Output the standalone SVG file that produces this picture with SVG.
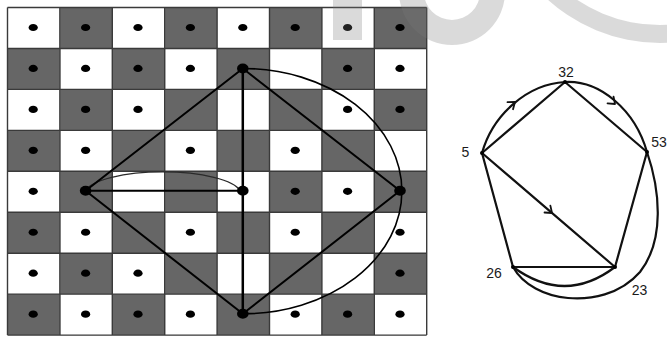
<svg xmlns="http://www.w3.org/2000/svg" xmlns:xlink="http://www.w3.org/1999/xlink" width="667" height="337" viewBox="0 0 667 337">
<style>
.grid{fill:none;stroke:#3a3a3a;stroke-width:1.4}
.dot{fill:#000}
.node{fill:#000}
.edge{fill:none;stroke:#000;stroke-width:2;stroke-linecap:round;stroke-linejoin:round}
.thin{fill:none;stroke:#2a2a2a;stroke-width:1.3}
.arc{fill:none;stroke:#000;stroke-width:1.6}
.gedge{fill:none;stroke:#111;stroke-width:2.2;stroke-linecap:round;stroke-linejoin:round}
.chev{fill:none;stroke:#111;stroke-width:1.8;stroke-linecap:round;stroke-linejoin:round}
.lbl{font-family:"Liberation Sans",Arial,sans-serif;font-size:14px;fill:#1a1a1a;text-anchor:middle}
.wm{fill:#7a7a7a;opacity:0.28}
</style>
<defs>
<pattern id="checker" patternUnits="userSpaceOnUse" x="7.5" y="7.5" width="104.8" height="81.9">
<rect x="0" y="0" width="104.8" height="81.9" fill="#fff"/>
<rect x="52.4" y="0" width="52.4" height="40.95" fill="#666"/>
<rect x="0" y="40.95" width="52.4" height="40.95" fill="#666"/>
</pattern>
<ellipse id="d" class="dot" cx="0" cy="0" rx="4.6" ry="3.6"/>
<path id="chev" class="chev" d="M-6,-4.5 L0,0 L-6,4.5"/>
</defs>
<rect width="667" height="337" fill="#fff"/>
<g id="board">
<rect x="7.5" y="7.5" width="419.2" height="327.6" fill="url(#checker)"/>
<path class="grid" d="M7.5,7.5V335.1M59.9,7.5V335.1M112.3,7.5V335.1M164.7,7.5V335.1M217.1,7.5V335.1M269.5,7.5V335.1M321.9,7.5V335.1M374.3,7.5V335.1M426.7,7.5V335.1M7.5,7.5H426.7M7.5,48.45H426.7M7.5,89.4H426.7M7.5,130.35H426.7M7.5,171.3H426.7M7.5,212.25H426.7M7.5,253.2H426.7M7.5,294.15H426.7M7.5,335.1H426.7"/>
<g id="dots">
<use href="#d" x="33.2" y="27.5"/><use href="#d" x="85.6" y="27.5"/><use href="#d" x="138" y="27.5"/><use href="#d" x="190.4" y="27.5"/><use href="#d" x="242.8" y="27.5"/><use href="#d" x="295.2" y="27.5"/><use href="#d" x="347.6" y="27.5"/><use href="#d" x="400" y="27.5"/>
<use href="#d" x="33.2" y="68.45"/><use href="#d" x="85.6" y="68.45"/><use href="#d" x="138" y="68.45"/><use href="#d" x="190.4" y="68.45"/><use href="#d" x="347.6" y="68.45"/><use href="#d" x="400" y="68.45"/>
<use href="#d" x="33.2" y="109.4"/><use href="#d" x="85.6" y="109.4"/><use href="#d" x="138" y="109.4"/><use href="#d" x="347.6" y="109.4"/><use href="#d" x="400" y="109.4"/>
<use href="#d" x="33.2" y="150.35"/><use href="#d" x="85.6" y="150.35"/><use href="#d" x="190.4" y="150.35"/><use href="#d" x="295.2" y="150.35"/>
<use href="#d" x="33.2" y="191.3"/><use href="#d" x="295.2" y="191.3"/><use href="#d" x="347.6" y="191.3"/>
<use href="#d" x="33.2" y="232.25"/><use href="#d" x="85.6" y="232.25"/><use href="#d" x="190.4" y="232.25"/><use href="#d" x="295.2" y="232.25"/><use href="#d" x="400" y="232.25"/>
<use href="#d" x="33.2" y="273.2"/><use href="#d" x="85.6" y="273.2"/><use href="#d" x="138" y="273.2"/><use href="#d" x="400" y="273.2"/>
<use href="#d" x="33.2" y="314.15"/><use href="#d" x="85.6" y="314.15"/><use href="#d" x="138" y="314.15"/><use href="#d" x="190.4" y="314.15"/><use href="#d" x="295.2" y="314.15"/><use href="#d" x="347.6" y="314.15"/><use href="#d" x="400" y="314.15"/>
</g>
</g>
<g id="watermark">
<rect class="wm" x="333" y="0" width="29" height="40"/>
<path class="wm" fill-rule="evenodd" d="M399,-8a53,53 0 1,0 106,0a53,53 0 1,0 -106,0ZM424,-8a28,28 0 1,0 56,0a28,28 0 1,0 -56,0Z"/>
<path class="wm" fill-rule="evenodd" d="M493,-124a167,167 0 1,0 334,0a167,167 0 1,0 -334,0ZM511,-124a149,149 0 1,0 298,0a149,149 0 1,0 -298,0Z"/>
</g>
<g id="connectors">
<path class="thin" d="M85.6,190.8A78,22 0 0,1 240,190.8"/>
<path class="arc" d="M242.8,68.5A159,122.6 0 0,1 242.8,313.8"/>
<path class="edge" d="M242.8,68.5L85.6,190.8L242.8,313.8L400,190.8Z"/>
<path class="edge" style="stroke-width:2.5" d="M242.8,68.5V313.8"/>
<path class="edge" d="M85.6,190.8H242.8"/>
<path class="gedge" d="M482,153L565,82L647,152L615,267L513,267Z"/>
<path class="gedge" d="M482,153L615,267"/>
<path class="gedge" d="M482,153C493,114 528,84 565,82C600,80 635,110 647,152C660,190 665,240 640,272C620,295 590,300 568,298C545,296 523,285 513,267"/>
<path class="gedge" d="M513,267Q565,305 615,267"/>
<use href="#chev" transform="translate(515,102) rotate(-38)"/>
<use href="#chev" transform="translate(615,104) rotate(42)"/>
<use href="#chev" transform="translate(552,213) rotate(40.6)"/>
</g>
<g id="n-board-top"><ellipse class="node" cx="242.8" cy="68.5" rx="5.8" ry="5"/></g>
<g id="n-board-left"><ellipse class="node" cx="85.6" cy="190.8" rx="5.8" ry="5"/></g>
<g id="n-board-center"><ellipse class="node" cx="242.8" cy="190.8" rx="5.8" ry="5"/></g>
<g id="n-board-right"><ellipse class="node" cx="400" cy="190.8" rx="5.8" ry="5"/></g>
<g id="n-board-bottom"><ellipse class="node" cx="242.8" cy="313.8" rx="5.8" ry="5"/></g>
<g id="n32"><circle class="node" cx="565" cy="82" r="2"/><text class="lbl" x="566" y="77">32</text></g>
<g id="n53"><circle class="node" cx="647" cy="152" r="2"/><text class="lbl" x="659" y="147">53</text></g>
<g id="n5"><circle class="node" cx="482" cy="153" r="2"/><text class="lbl" x="465.5" y="157">5</text></g>
<g id="n26"><circle class="node" cx="513" cy="267" r="2"/><text class="lbl" x="494" y="278">26</text></g>
<g id="n23"><circle class="node" cx="615" cy="267" r="2"/><text class="lbl" x="639.5" y="295">23</text></g>
</svg>
